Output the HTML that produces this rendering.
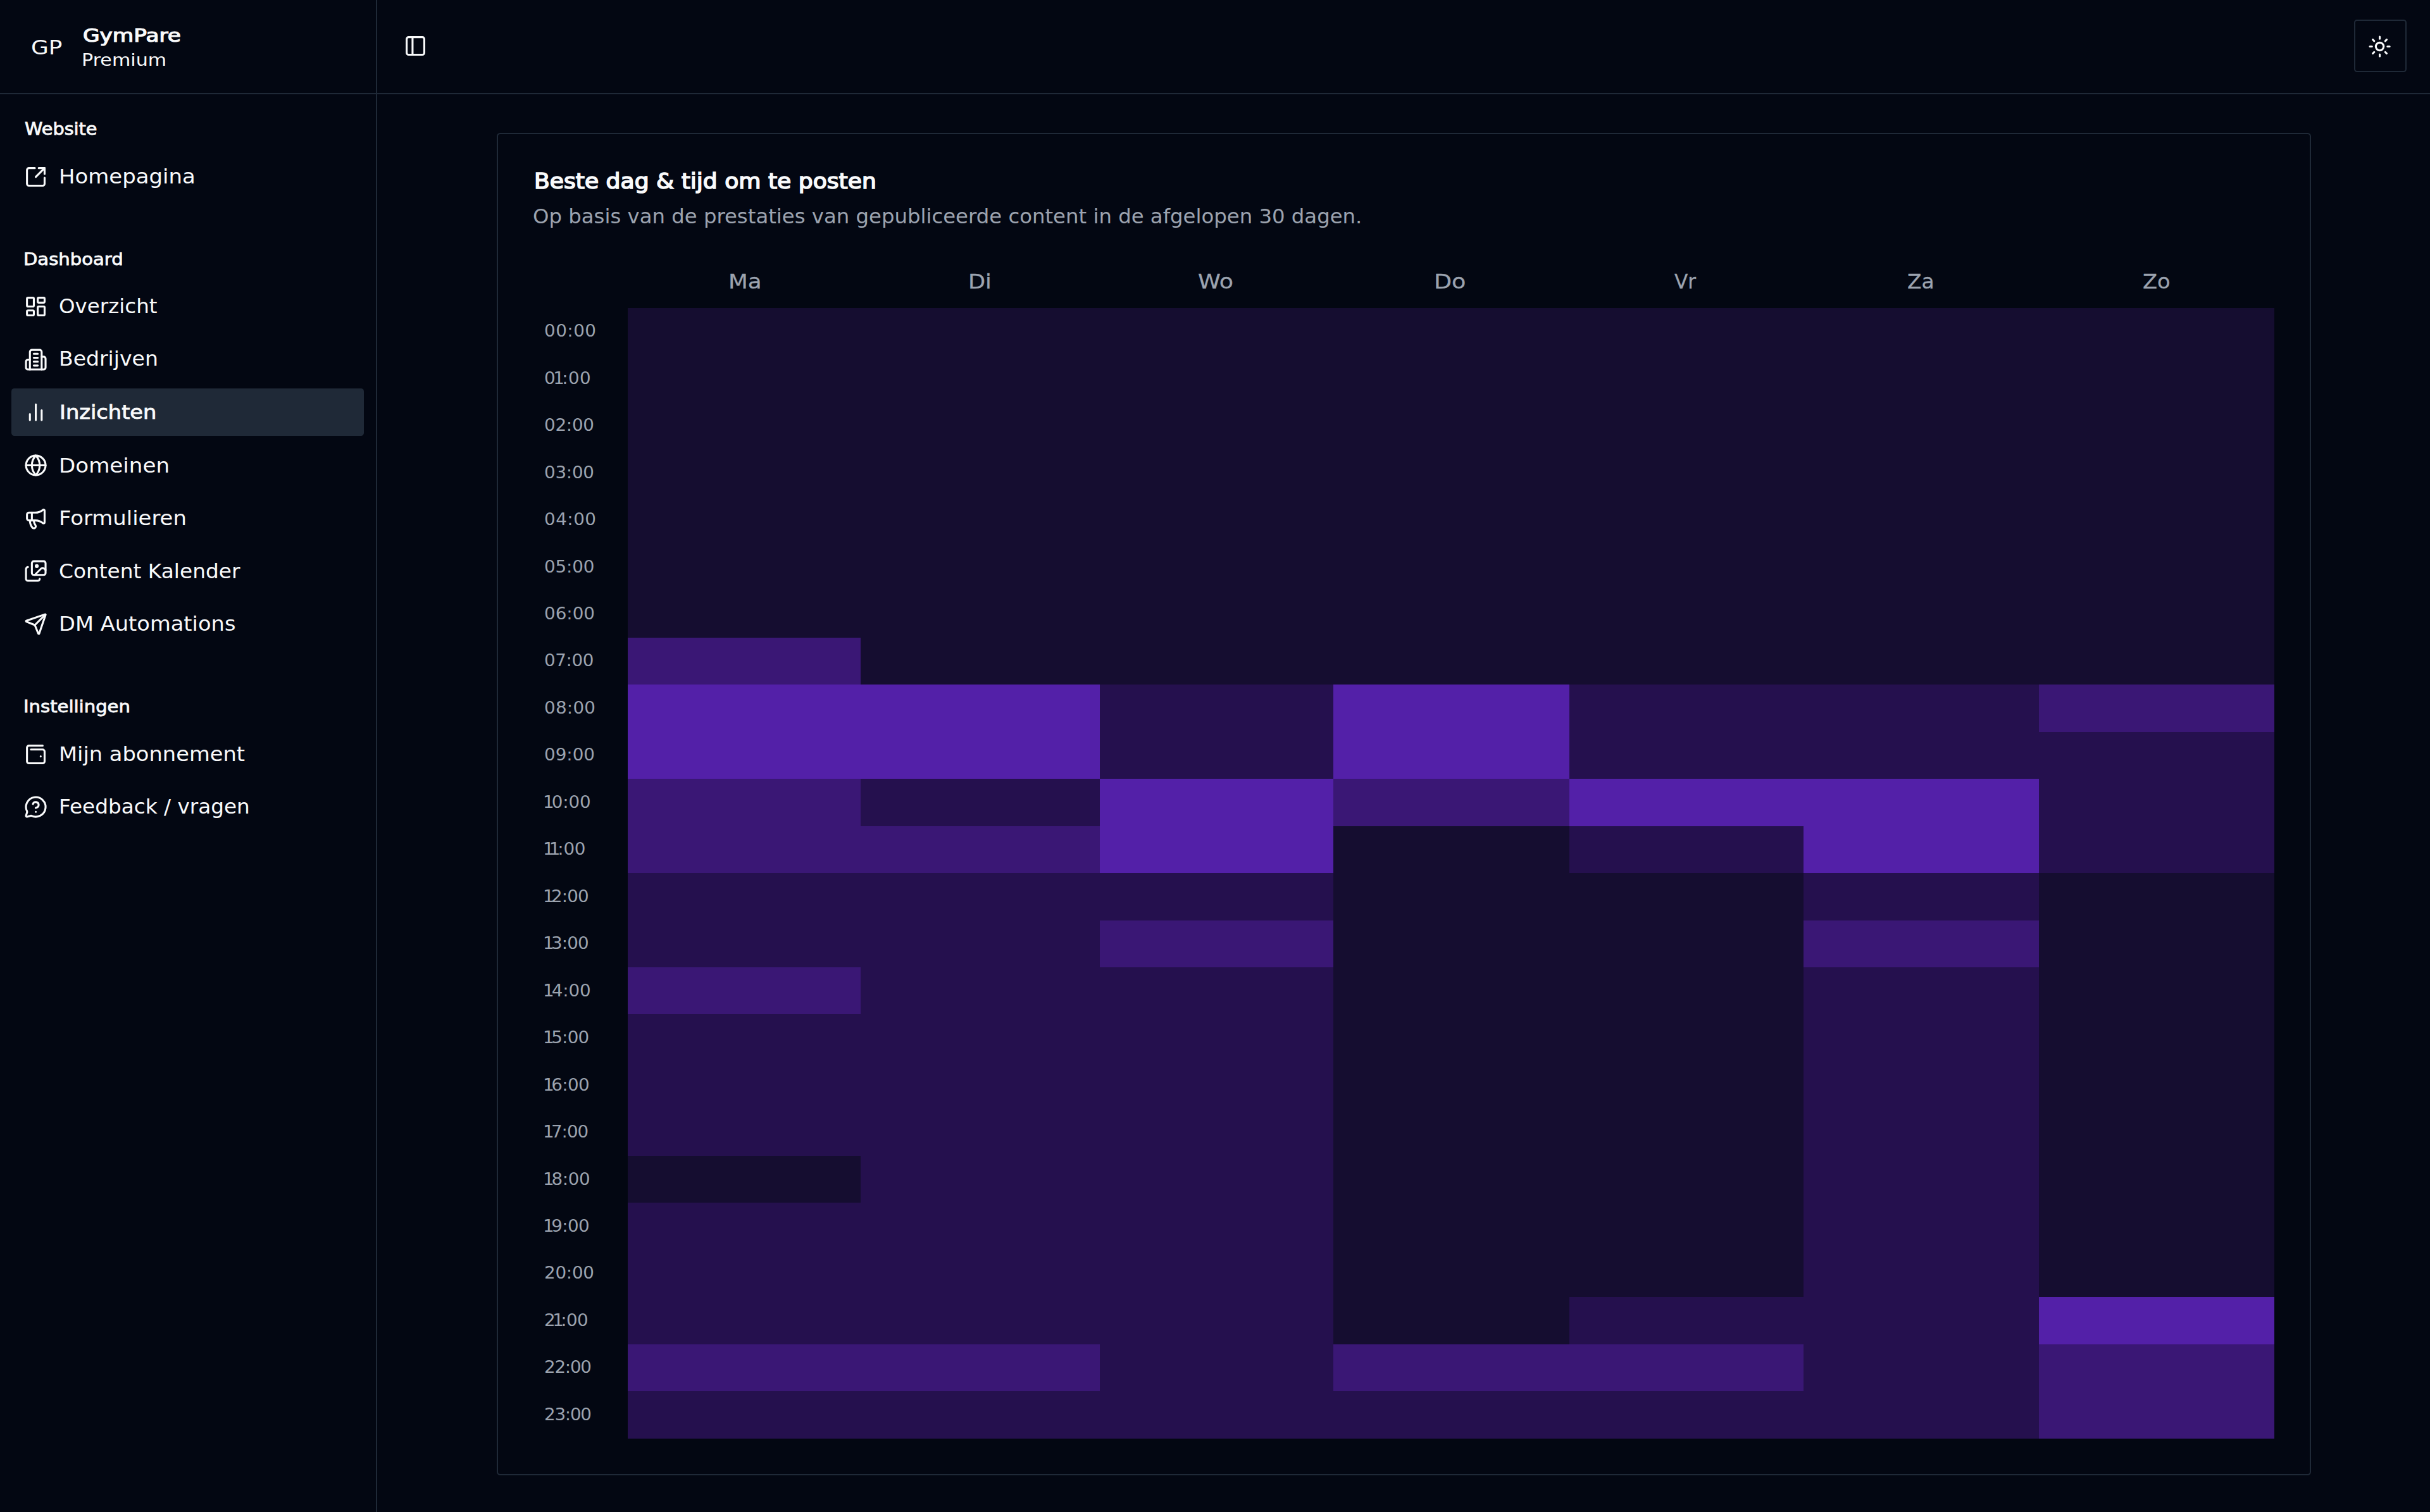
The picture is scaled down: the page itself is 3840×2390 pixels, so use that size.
<!DOCTYPE html>
<html lang="nl">
<head>
<meta charset="utf-8">
<title>GymPare – Inzichten</title>
<style>
html{font-size:calc(100vw / 38.4);overflow:hidden;background:#030712}
*{box-sizing:border-box}
body{margin:0;background:#030712;color:#f9fafb;font-family:"DejaVu Sans", "Liberation Sans", sans-serif;width:38.4rem;height:23.9rem;overflow:hidden;position:relative}
.t{position:relative;display:block;transform-origin:0 50%;line-height:1;white-space:nowrap;margin:0;font-weight:400}
svg.ic{width:.3712rem;height:.3712rem;flex:none;display:block}
aside{position:absolute;left:0;top:0;width:5.955rem;height:23.9rem;border-right:.02rem solid #1f2937;background:#030712}
.brand{position:absolute;left:0;top:0;width:100%;height:1.485rem;border-bottom:.02rem solid #1f2937}
.avatar{position:absolute;left:.3712rem;top:.3712rem;width:.7424rem;height:.7424rem;display:flex;align-items:center;justify-content:center}
.bname{position:absolute;left:1.2992rem}
.glabel{position:absolute;left:.3712rem;height:.7424rem;display:flex;align-items:center}
.item{position:absolute;left:.181rem;width:5.565rem;height:.7424rem;border-radius:.0464rem;padding:0 .1856rem 0 .1902rem;display:flex;align-items:center;gap:.1856rem;color:#f9fafb;text-decoration:none}
.item.on{background:#1f2937}
header.top{position:absolute;left:5.955rem;top:0;right:0;height:1.485rem;border-bottom:.02rem solid #1f2937}
.trigger{position:absolute;top:.4045rem;width:.65rem;height:.65rem;display:flex;align-items:center;justify-content:center;background:none;border:0;color:inherit;padding:0}
.theme{position:absolute;width:.83rem;height:.83rem;border:.02rem solid #1f2937;border-radius:.0464rem;display:flex;align-items:center;justify-content:center;background:#030712;color:inherit;padding:0}
.card{position:absolute;left:7.845rem;top:2.095rem;width:28.67rem;height:21.22rem;border:.02rem solid #1f2937;border-radius:.055rem;background:#030712}
.card .hd{position:absolute;left:.569rem;top:.56rem}
.desc{color:#9ca3af}
.day{position:absolute;display:flex;justify-content:center;color:#9ca3af}
.hr{position:absolute;color:#9ca3af}
.n1{margin:0 -.14em}
.c{position:absolute}
.l1{background:#150d30}.l2{background:#25104e}.l3{background:#3a1775}.l4{background:#5320a8}
.sb{-webkit-text-stroke:0.016rem currentColor}
.md{-webkit-text-stroke:0.008rem currentColor}
.md2{-webkit-text-stroke:.003rem currentColor}
.sb2{-webkit-text-stroke:.012rem currentColor}
.item svg{position:relative;left:.005rem;top:.005rem}
.theme svg{position:relative;top:.0075rem}

</style>
</head>
<body>
<aside>
 <div class="brand">
  <div class="avatar"><span id="t_gp" class="t" style="font-size:0.312rem;left:-0.036rem;top:0.0111rem;transform:scaleX(1.1496)">GP</span></div>
  <div class="bname" style="top:.4rem"><span id="t_gym" class="t" style="font-size:0.288rem;left:0.01rem;top:0.0244rem;transform:scaleX(1.1906)"><span class="sb2">GymPare</span></span></div>
  <div class="bname" style="top:.8rem"><span id="t_prem" class="t" style="font-size:0.267rem;left:-0.012rem;top:0.019rem;transform:scaleX(1.1293)">Premium</span></div>
 </div>
 <nav>
  <div class="glabel" style="top:1.6663rem"><span id="t_lab0" class="t" style="font-size:0.26rem;left:0.016rem;top:0.005rem;transform:scaleX(1.1051)"><span class="md">Website</span></span></div>
  <a class="item" style="top:2.4188rem"><svg class="ic" viewBox="0 0 24 24" fill="none" stroke="currentColor" stroke-width="2" stroke-linecap="round" stroke-linejoin="round"><path d="M21 13v6a2 2 0 0 1-2 2H5a2 2 0 0 1-2-2V5a2 2 0 0 1 2-2h6"/><path d="m21 3-9 9"/><path d="M15 3h6v6"/></svg><span id="t_it0" class="t" style="font-size:0.312rem;left:0.006rem;top:0.0069rem;transform:scaleX(1.0881)">Homepagina</span></a>
  <div class="glabel" style="top:3.7198rem"><span id="t_lab1" class="t" style="font-size:0.26rem;left:-0.004rem;top:0.0051rem;transform:scaleX(1.1171)"><span class="md">Dashboard</span></span></div>
  <a class="item" style="top:4.4698rem"><svg class="ic" viewBox="0 0 24 24" fill="none" stroke="currentColor" stroke-width="2" stroke-linecap="round" stroke-linejoin="round"><rect width="7" height="9" x="3" y="3" rx="1"/><rect width="7" height="5" x="14" y="3" rx="1"/><rect width="7" height="9" x="14" y="12" rx="1"/><rect width="7" height="5" x="3" y="16" rx="1"/></svg><span id="t_it1" class="t" style="font-size:0.312rem;left:0.006rem;top:0.006rem;transform:scaleX(1.0424)">Overzicht</span></a>
  <a class="item" style="top:5.3058rem"><svg class="ic" viewBox="0 0 24 24" fill="none" stroke="currentColor" stroke-width="2" stroke-linecap="round" stroke-linejoin="round"><path d="M6 22V4a2 2 0 0 1 2-2h8a2 2 0 0 1 2 2v18Z"/><path d="M6 12H4a2 2 0 0 0-2 2v6a2 2 0 0 0 2 2h2"/><path d="M18 9h2a2 2 0 0 1 2 2v9a2 2 0 0 1-2 2h-2"/><path d="M10 6h4"/><path d="M10 10h4"/><path d="M10 14h4"/><path d="M10 18h4"/></svg><span id="t_it2" class="t" style="font-size:0.312rem;left:0.002rem;top:0.0029rem;transform:scaleX(1.0601)">Bedrijven</span></a>
  <a class="item on" style="top:6.1428rem"><svg class="ic" viewBox="0 0 24 24" fill="none" stroke="currentColor" stroke-width="2" stroke-linecap="round" stroke-linejoin="round"><path d="M18 20V10"/><path d="M12 20V4"/><path d="M6 20v-6"/></svg><span id="t_it3" class="t" style="font-size:0.304rem;left:0.012rem;top:0.0105rem;transform:scaleX(1.1078)"><span class="md">Inzichten</span></span></a>
  <a class="item" style="top:6.9788rem"><svg class="ic" viewBox="0 0 24 24" fill="none" stroke="currentColor" stroke-width="2" stroke-linecap="round" stroke-linejoin="round"><circle cx="12" cy="12" r="10"/><path d="M12 2a14.5 14.5 0 0 0 0 20 14.5 14.5 0 0 0 0-20"/><path d="M2 12h20"/></svg><span id="t_it4" class="t" style="font-size:0.312rem;left:0.002rem;top:0.0115rem;transform:scaleX(1.0935)">Domeinen</span></a>
  <a class="item" style="top:7.8158rem"><svg class="ic" viewBox="0 0 24 24" fill="none" stroke="currentColor" stroke-width="2" stroke-linecap="round" stroke-linejoin="round"><path d="M11 6a13 13 0 0 0 8.4-2.8A1 1 0 0 1 21 4v12a1 1 0 0 1-1.6.8A13 13 0 0 0 11 14H5a2 2 0 0 1-2-2V8a2 2 0 0 1 2-2z"/><path d="M6 14a12 12 0 0 0 2.4 7.2 2 2 0 0 0 3.2-2.4A8 8 0 0 1 10 14"/><path d="M8 6v8"/></svg><span id="t_it5" class="t" style="font-size:0.312rem;left:0.002rem;top:0.0114rem;transform:scaleX(1.0856)">Formulieren</span></a>
  <a class="item" style="top:8.6518rem"><svg class="ic" viewBox="0 0 24 24" fill="none" stroke="currentColor" stroke-width="2" stroke-linecap="round" stroke-linejoin="round"><path d="m22 11-1.296-1.296a2.4 2.4 0 0 0-3.408 0L11 16"/><path d="M4 8a2 2 0 0 0-2 2v10a2 2 0 0 0 2 2h10a2 2 0 0 0 2-2"/><circle cx="13" cy="7" r="1" fill="currentColor"/><rect x="8" y="2" width="14" height="14" rx="2"/></svg><span id="t_it6" class="t" style="font-size:0.312rem;left:0.006rem;top:0.0144rem;transform:scaleX(1.0515)">Content Kalender</span></a>
  <a class="item" style="top:9.4888rem"><svg class="ic" viewBox="0 0 24 24" fill="none" stroke="currentColor" stroke-width="2" stroke-linecap="round" stroke-linejoin="round"><path d="M14.536 21.686a.5.5 0 0 0 .937-.024l6.5-19a.496.496 0 0 0-.635-.635l-19 6.5a.5.5 0 0 0-.024.937l7.93 3.18a2 2 0 0 1 1.112 1.11z"/><path d="m21.854 2.147-10.94 10.939"/></svg><span id="t_it7" class="t" style="font-size:0.312rem;left:0.002rem;top:0.0099rem;transform:scaleX(1.0800)">DM Automations</span></a>
  <div class="glabel" style="top:10.7938rem"><span id="t_lab2" class="t" style="font-size:0.26rem;left:-0.004rem;top:0.005rem;transform:scaleX(1.1186)"><span class="md">Instellingen</span></span></div>
  <a class="item" style="top:11.5448rem"><svg class="ic" viewBox="0 0 24 24" fill="none" stroke="currentColor" stroke-width="2" stroke-linecap="round" stroke-linejoin="round"><path d="M17 14h.01"/><path d="M7 7h12a2 2 0 0 1 2 2v10a2 2 0 0 1-2 2H5a2 2 0 0 1-2-2V5a2 2 0 0 1 2-2h14"/></svg><span id="t_it8" class="t" style="font-size:0.312rem;left:0.002rem;top:0.0065rem;transform:scaleX(1.0800)">Mijn abonnement</span></a>
  <a class="item" style="top:12.3808rem"><svg class="ic" viewBox="0 0 24 24" fill="none" stroke="currentColor" stroke-width="2" stroke-linecap="round" stroke-linejoin="round"><path d="M2.992 16.342a2 2 0 0 1 .094 1.167l-1.065 3.29a1 1 0 0 0 1.236 1.168l3.413-.998a2 2 0 0 1 1.099.092 10 10 0 1 0-4.777-4.719"/><path d="M9.09 9a3 3 0 0 1 5.83 1c0 2-3 3-3 3"/><path d="M12 17h.01"/></svg><span id="t_it9" class="t" style="font-size:0.312rem;left:0.002rem;top:0.0059rem;transform:scaleX(1.0477)">Feedback / vragen</span></a>
 </nav>
</aside>
<header class="top">
 <button class="trigger" style="left:0.282rem"><svg class="ic" viewBox="0 0 24 24" fill="none" stroke="currentColor" stroke-width="2" stroke-linecap="round" stroke-linejoin="round"><rect width="18" height="18" x="3" y="3" rx="2"/><path d="M9 3v18"/></svg></button>
 <button class="theme" style="left:31.24rem;top:0.314rem"><svg class="ic" viewBox="0 0 24 24" fill="none" stroke="currentColor" stroke-width="2" stroke-linecap="round" stroke-linejoin="round"><circle cx="12" cy="12" r="4"/><path d="M12 2v2"/><path d="M12 20v2"/><path d="m4.93 4.93 1.41 1.41"/><path d="m17.66 17.66 1.41 1.41"/><path d="M2 12h2"/><path d="M20 12h2"/><path d="m6.34 17.66-1.41 1.41"/><path d="m19.07 4.93-1.41 1.41"/></svg></button>
</header>
<main>
<section class="card">
 <div class="hd">
  <h3 id="t_title" class="t" style="font-size:0.346rem;left:0.002rem;top:0.013rem;transform:scaleX(1.0439)"><span class="sb">Beste dag &amp; tijd om te posten</span></h3>
  <p id="t_desc" class="t" style="font-size:0.315rem;left:-0.016rem;top:0.2474rem;transform:scaleX(1.0262);color:#9ca3af">Op basis van de prestaties van gepubliceerde content in de afgelopen 30 dagen.</p>
 </div>
 <div class="heat">
  <div class="day" style="left:2.05rem;width:3.7171rem;top:2.165rem"><span id="t_day0" class="t" style="font-size:0.312rem;left:-0.034rem;top:0.0158rem;transform:scaleX(1.1433)"><span class="md2">Ma</span></span></div>
  <div class="day" style="left:5.7671rem;width:3.7171rem;top:2.165rem"><span id="t_day1" class="t" style="font-size:0.312rem;left:-0.028rem;top:0.0158rem;transform:scaleX(1.1278)"><span class="md2">Di</span></span></div>
  <div class="day" style="left:9.4843rem;width:3.7171rem;top:2.165rem"><span id="t_day2" class="t" style="font-size:0.312rem;left:-0.034rem;top:0.0158rem;transform:scaleX(1.1652)"><span class="md2">Wo</span></span></div>
  <div class="day" style="left:13.2014rem;width:3.7171rem;top:2.165rem"><span id="t_day3" class="t" style="font-size:0.312rem;left:-0.048rem;top:0.0158rem;transform:scaleX(1.1707)"><span class="md2">Do</span></span></div>
  <div class="day" style="left:16.9186rem;width:3.7171rem;top:2.165rem"><span id="t_day4" class="t" style="font-size:0.312rem;left:-0.008rem;top:0.0158rem;transform:scaleX(0.9968)"><span class="md2">Vr</span></span></div>
  <div class="day" style="left:20.6357rem;width:3.7171rem;top:2.165rem"><span id="t_day5" class="t" style="font-size:0.312rem;left:-0.016rem;top:0.0158rem;transform:scaleX(1.0559)"><span class="md2">Za</span></span></div>
  <div class="day" style="left:24.3529rem;width:3.7171rem;top:2.165rem"><span id="t_day6" class="t" style="font-size:0.312rem;left:-0.016rem;top:0.0158rem;transform:scaleX(1.0788)"><span class="md2">Zo</span></span></div>
  <div class="hr" style="left:0.755rem;top:2.9823rem"><span id="t_hr0" class="t" style="font-size:0.267rem;letter-spacing:0.0048rem;left:-0.018rem;top:0.0046rem;transform:scaleX(1.0400)">00:00</span></div>
  <div class="c l1" style="left:2.05rem;top:2.75rem;width:3.688rem;height:0.7476rem"></div>
  <div class="c l1" style="left:5.735rem;top:2.75rem;width:3.783rem;height:0.7476rem"></div>
  <div class="c l1" style="left:9.515rem;top:2.75rem;width:3.697rem;height:0.7476rem"></div>
  <div class="c l1" style="left:13.209rem;top:2.75rem;width:3.727rem;height:0.7476rem"></div>
  <div class="c l1" style="left:16.933rem;top:2.75rem;width:3.7035rem;height:0.7476rem"></div>
  <div class="c l1" style="left:20.6335rem;top:2.75rem;width:3.7245rem;height:0.7476rem"></div>
  <div class="c l1" style="left:24.355rem;top:2.75rem;width:3.718rem;height:0.7476rem"></div>
  <div class="hr" style="left:0.755rem;top:3.727rem"><span id="t_hr1" class="t" style="font-size:0.267rem;letter-spacing:0.0036rem;left:-0.018rem;top:0.0046rem;transform:scaleX(1.0400)">0<span class="n1">1</span>:00</span></div>
  <div class="c l1" style="left:2.05rem;top:3.4946rem;width:3.688rem;height:0.7476rem"></div>
  <div class="c l1" style="left:5.735rem;top:3.4946rem;width:3.783rem;height:0.7476rem"></div>
  <div class="c l1" style="left:9.515rem;top:3.4946rem;width:3.697rem;height:0.7476rem"></div>
  <div class="c l1" style="left:13.209rem;top:3.4946rem;width:3.727rem;height:0.7476rem"></div>
  <div class="c l1" style="left:16.933rem;top:3.4946rem;width:3.7035rem;height:0.7476rem"></div>
  <div class="c l1" style="left:20.6335rem;top:3.4946rem;width:3.7245rem;height:0.7476rem"></div>
  <div class="c l1" style="left:24.355rem;top:3.4946rem;width:3.718rem;height:0.7476rem"></div>
  <div class="hr" style="left:0.755rem;top:4.4716rem"><span id="t_hr2" class="t" style="font-size:0.267rem;letter-spacing:-0.0024rem;left:-0.018rem;top:0.0046rem;transform:scaleX(1.0400)">02:00</span></div>
  <div class="c l1" style="left:2.05rem;top:4.2393rem;width:3.688rem;height:0.7476rem"></div>
  <div class="c l1" style="left:5.735rem;top:4.2393rem;width:3.783rem;height:0.7476rem"></div>
  <div class="c l1" style="left:9.515rem;top:4.2393rem;width:3.697rem;height:0.7476rem"></div>
  <div class="c l1" style="left:13.209rem;top:4.2393rem;width:3.727rem;height:0.7476rem"></div>
  <div class="c l1" style="left:16.933rem;top:4.2393rem;width:3.7035rem;height:0.7476rem"></div>
  <div class="c l1" style="left:20.6335rem;top:4.2393rem;width:3.7245rem;height:0.7476rem"></div>
  <div class="c l1" style="left:24.355rem;top:4.2393rem;width:3.718rem;height:0.7476rem"></div>
  <div class="hr" style="left:0.755rem;top:5.2163rem"><span id="t_hr3" class="t" style="font-size:0.267rem;letter-spacing:-0.0024rem;left:-0.018rem;top:0.0046rem;transform:scaleX(1.0400)">03:00</span></div>
  <div class="c l1" style="left:2.05rem;top:4.9839rem;width:3.688rem;height:0.7476rem"></div>
  <div class="c l1" style="left:5.735rem;top:4.9839rem;width:3.783rem;height:0.7476rem"></div>
  <div class="c l1" style="left:9.515rem;top:4.9839rem;width:3.697rem;height:0.7476rem"></div>
  <div class="c l1" style="left:13.209rem;top:4.9839rem;width:3.727rem;height:0.7476rem"></div>
  <div class="c l1" style="left:16.933rem;top:4.9839rem;width:3.7035rem;height:0.7476rem"></div>
  <div class="c l1" style="left:20.6335rem;top:4.9839rem;width:3.7245rem;height:0.7476rem"></div>
  <div class="c l1" style="left:24.355rem;top:4.9839rem;width:3.718rem;height:0.7476rem"></div>
  <div class="hr" style="left:0.755rem;top:5.9609rem"><span id="t_hr4" class="t" style="font-size:0.267rem;letter-spacing:0.0048rem;left:-0.018rem;top:0.0046rem;transform:scaleX(1.0400)">04:00</span></div>
  <div class="c l1" style="left:2.05rem;top:5.7286rem;width:3.688rem;height:0.7476rem"></div>
  <div class="c l1" style="left:5.735rem;top:5.7286rem;width:3.783rem;height:0.7476rem"></div>
  <div class="c l1" style="left:9.515rem;top:5.7286rem;width:3.697rem;height:0.7476rem"></div>
  <div class="c l1" style="left:13.209rem;top:5.7286rem;width:3.727rem;height:0.7476rem"></div>
  <div class="c l1" style="left:16.933rem;top:5.7286rem;width:3.7035rem;height:0.7476rem"></div>
  <div class="c l1" style="left:20.6335rem;top:5.7286rem;width:3.7245rem;height:0.7476rem"></div>
  <div class="c l1" style="left:24.355rem;top:5.7286rem;width:3.718rem;height:0.7476rem"></div>
  <div class="hr" style="left:0.755rem;top:6.7056rem"><span id="t_hr5" class="t" style="font-size:0.267rem;letter-spacing:-0.0012rem;left:-0.018rem;top:0.0046rem;transform:scaleX(1.0400)">05:00</span></div>
  <div class="c l1" style="left:2.05rem;top:6.4732rem;width:3.688rem;height:0.7476rem"></div>
  <div class="c l1" style="left:5.735rem;top:6.4732rem;width:3.783rem;height:0.7476rem"></div>
  <div class="c l1" style="left:9.515rem;top:6.4732rem;width:3.697rem;height:0.7476rem"></div>
  <div class="c l1" style="left:13.209rem;top:6.4732rem;width:3.727rem;height:0.7476rem"></div>
  <div class="c l1" style="left:16.933rem;top:6.4732rem;width:3.7035rem;height:0.7476rem"></div>
  <div class="c l1" style="left:20.6335rem;top:6.4732rem;width:3.7245rem;height:0.7476rem"></div>
  <div class="c l1" style="left:24.355rem;top:6.4732rem;width:3.718rem;height:0.7476rem"></div>
  <div class="hr" style="left:0.755rem;top:7.4502rem"><span id="t_hr6" class="t" style="font-size:0.267rem;left:-0.018rem;top:0.0046rem;transform:scaleX(1.0400)">06:00</span></div>
  <div class="c l1" style="left:2.05rem;top:7.2179rem;width:3.688rem;height:0.7476rem"></div>
  <div class="c l1" style="left:5.735rem;top:7.2179rem;width:3.783rem;height:0.7476rem"></div>
  <div class="c l1" style="left:9.515rem;top:7.2179rem;width:3.697rem;height:0.7476rem"></div>
  <div class="c l1" style="left:13.209rem;top:7.2179rem;width:3.727rem;height:0.7476rem"></div>
  <div class="c l1" style="left:16.933rem;top:7.2179rem;width:3.7035rem;height:0.7476rem"></div>
  <div class="c l1" style="left:20.6335rem;top:7.2179rem;width:3.7245rem;height:0.7476rem"></div>
  <div class="c l1" style="left:24.355rem;top:7.2179rem;width:3.718rem;height:0.7476rem"></div>
  <div class="hr" style="left:0.755rem;top:8.1948rem"><span id="t_hr7" class="t" style="font-size:0.267rem;letter-spacing:-0.0036rem;left:-0.018rem;top:0.0046rem;transform:scaleX(1.0400)">07:00</span></div>
  <div class="c l3" style="left:2.05rem;top:7.9625rem;width:3.706rem;height:0.7476rem"></div>
  <div class="c l1" style="left:5.735rem;top:7.9625rem;width:3.783rem;height:0.7476rem"></div>
  <div class="c l1" style="left:9.515rem;top:7.9625rem;width:3.697rem;height:0.7476rem"></div>
  <div class="c l1" style="left:13.209rem;top:7.9625rem;width:3.727rem;height:0.7476rem"></div>
  <div class="c l1" style="left:16.933rem;top:7.9625rem;width:3.7035rem;height:0.7476rem"></div>
  <div class="c l1" style="left:20.6335rem;top:7.9625rem;width:3.7245rem;height:0.7476rem"></div>
  <div class="c l1" style="left:24.355rem;top:7.9625rem;width:3.718rem;height:0.7476rem"></div>
  <div class="hr" style="left:0.755rem;top:8.9395rem"><span id="t_hr8" class="t" style="font-size:0.267rem;letter-spacing:0.0024rem;left:-0.018rem;top:0.0046rem;transform:scaleX(1.0400)">08:00</span></div>
  <div class="c l4" style="left:2.05rem;top:8.7072rem;width:3.688rem;height:0.7476rem"></div>
  <div class="c l4" style="left:5.735rem;top:8.7072rem;width:3.783rem;height:0.7476rem"></div>
  <div class="c l2" style="left:9.515rem;top:8.7072rem;width:3.697rem;height:0.7476rem"></div>
  <div class="c l4" style="left:13.209rem;top:8.7072rem;width:3.727rem;height:0.7476rem"></div>
  <div class="c l2" style="left:16.933rem;top:8.7072rem;width:3.7035rem;height:0.7476rem"></div>
  <div class="c l2" style="left:20.6335rem;top:8.7072rem;width:3.7245rem;height:0.7476rem"></div>
  <div class="c l3" style="left:24.355rem;top:8.7072rem;width:3.718rem;height:0.7476rem"></div>
  <div class="hr" style="left:0.755rem;top:9.6841rem"><span id="t_hr9" class="t" style="font-size:0.267rem;left:-0.018rem;top:0.0046rem;transform:scaleX(1.0400)">09:00</span></div>
  <div class="c l4" style="left:2.05rem;top:9.4518rem;width:3.688rem;height:0.7476rem"></div>
  <div class="c l4" style="left:5.735rem;top:9.4518rem;width:3.783rem;height:0.7476rem"></div>
  <div class="c l2" style="left:9.515rem;top:9.4518rem;width:3.697rem;height:0.7476rem"></div>
  <div class="c l4" style="left:13.209rem;top:9.4518rem;width:3.727rem;height:0.7476rem"></div>
  <div class="c l2" style="left:16.933rem;top:9.4518rem;width:3.7035rem;height:0.7476rem"></div>
  <div class="c l2" style="left:20.6335rem;top:9.4518rem;width:3.7245rem;height:0.7476rem"></div>
  <div class="c l2" style="left:24.355rem;top:9.4518rem;width:3.718rem;height:0.7476rem"></div>
  <div class="hr" style="left:0.755rem;top:10.4288rem"><span id="t_hr10" class="t" style="font-size:0.267rem;letter-spacing:-0.0012rem;left:0.002rem;top:0.0046rem;transform:scaleX(1.0400)"><span class="n1">1</span>0:00</span></div>
  <div class="c l3" style="left:2.05rem;top:10.1965rem;width:3.688rem;height:0.7476rem"></div>
  <div class="c l2" style="left:5.735rem;top:10.1965rem;width:3.783rem;height:0.7476rem"></div>
  <div class="c l4" style="left:9.515rem;top:10.1965rem;width:3.697rem;height:0.7476rem"></div>
  <div class="c l3" style="left:13.209rem;top:10.1965rem;width:3.727rem;height:0.7476rem"></div>
  <div class="c l4" style="left:16.933rem;top:10.1965rem;width:3.7035rem;height:0.7476rem"></div>
  <div class="c l4" style="left:20.6335rem;top:10.1965rem;width:3.7245rem;height:0.7476rem"></div>
  <div class="c l2" style="left:24.355rem;top:10.1965rem;width:3.718rem;height:0.7476rem"></div>
  <div class="hr" style="left:0.755rem;top:11.1734rem"><span id="t_hr11" class="t" style="font-size:0.267rem;letter-spacing:-0.0024rem;left:0.002rem;top:0.0046rem;transform:scaleX(1.0400)"><span class="n1">1</span><span class="n1">1</span>:00</span></div>
  <div class="c l3" style="left:2.05rem;top:10.9411rem;width:3.688rem;height:0.7476rem"></div>
  <div class="c l3" style="left:5.735rem;top:10.9411rem;width:3.783rem;height:0.7476rem"></div>
  <div class="c l4" style="left:9.515rem;top:10.9411rem;width:3.697rem;height:0.7476rem"></div>
  <div class="c l1" style="left:13.209rem;top:10.9411rem;width:3.727rem;height:0.7476rem"></div>
  <div class="c l2" style="left:16.933rem;top:10.9411rem;width:3.7035rem;height:0.7476rem"></div>
  <div class="c l4" style="left:20.6335rem;top:10.9411rem;width:3.7245rem;height:0.7476rem"></div>
  <div class="c l2" style="left:24.355rem;top:10.9411rem;width:3.718rem;height:0.7476rem"></div>
  <div class="hr" style="left:0.755rem;top:11.9181rem"><span id="t_hr12" class="t" style="font-size:0.267rem;letter-spacing:-0.0084rem;left:0.002rem;top:0.0046rem;transform:scaleX(1.0400)"><span class="n1">1</span>2:00</span></div>
  <div class="c l2" style="left:2.05rem;top:11.6858rem;width:3.688rem;height:0.7476rem"></div>
  <div class="c l2" style="left:5.735rem;top:11.6858rem;width:3.783rem;height:0.7476rem"></div>
  <div class="c l2" style="left:9.515rem;top:11.6858rem;width:3.697rem;height:0.7476rem"></div>
  <div class="c l1" style="left:13.209rem;top:11.6858rem;width:3.727rem;height:0.7476rem"></div>
  <div class="c l1" style="left:16.933rem;top:11.6858rem;width:3.7035rem;height:0.7476rem"></div>
  <div class="c l2" style="left:20.6335rem;top:11.6858rem;width:3.7245rem;height:0.7476rem"></div>
  <div class="c l1" style="left:24.355rem;top:11.6858rem;width:3.718rem;height:0.7476rem"></div>
  <div class="hr" style="left:0.755rem;top:12.6627rem"><span id="t_hr13" class="t" style="font-size:0.267rem;letter-spacing:-0.0084rem;left:0.002rem;top:0.0046rem;transform:scaleX(1.0400)"><span class="n1">1</span>3:00</span></div>
  <div class="c l2" style="left:2.05rem;top:12.4304rem;width:3.688rem;height:0.7476rem"></div>
  <div class="c l2" style="left:5.735rem;top:12.4304rem;width:3.783rem;height:0.7476rem"></div>
  <div class="c l3" style="left:9.515rem;top:12.4304rem;width:3.697rem;height:0.7476rem"></div>
  <div class="c l1" style="left:13.209rem;top:12.4304rem;width:3.727rem;height:0.7476rem"></div>
  <div class="c l1" style="left:16.933rem;top:12.4304rem;width:3.7035rem;height:0.7476rem"></div>
  <div class="c l3" style="left:20.6335rem;top:12.4304rem;width:3.7245rem;height:0.7476rem"></div>
  <div class="c l1" style="left:24.355rem;top:12.4304rem;width:3.718rem;height:0.7476rem"></div>
  <div class="hr" style="left:0.755rem;top:13.4074rem"><span id="t_hr14" class="t" style="font-size:0.267rem;letter-spacing:-0.0012rem;left:0.002rem;top:0.0046rem;transform:scaleX(1.0400)"><span class="n1">1</span>4:00</span></div>
  <div class="c l3" style="left:2.05rem;top:13.175rem;width:3.688rem;height:0.7476rem"></div>
  <div class="c l2" style="left:5.735rem;top:13.175rem;width:3.783rem;height:0.7476rem"></div>
  <div class="c l2" style="left:9.515rem;top:13.175rem;width:3.697rem;height:0.7476rem"></div>
  <div class="c l1" style="left:13.209rem;top:13.175rem;width:3.727rem;height:0.7476rem"></div>
  <div class="c l1" style="left:16.933rem;top:13.175rem;width:3.7035rem;height:0.7476rem"></div>
  <div class="c l2" style="left:20.6335rem;top:13.175rem;width:3.7245rem;height:0.7476rem"></div>
  <div class="c l1" style="left:24.355rem;top:13.175rem;width:3.718rem;height:0.7476rem"></div>
  <div class="hr" style="left:0.755rem;top:14.152rem"><span id="t_hr15" class="t" style="font-size:0.267rem;letter-spacing:-0.0072rem;left:0.002rem;top:0.0046rem;transform:scaleX(1.0400)"><span class="n1">1</span>5:00</span></div>
  <div class="c l2" style="left:2.05rem;top:13.9197rem;width:3.688rem;height:0.7476rem"></div>
  <div class="c l2" style="left:5.735rem;top:13.9197rem;width:3.783rem;height:0.7476rem"></div>
  <div class="c l2" style="left:9.515rem;top:13.9197rem;width:3.697rem;height:0.7476rem"></div>
  <div class="c l1" style="left:13.209rem;top:13.9197rem;width:3.727rem;height:0.7476rem"></div>
  <div class="c l1" style="left:16.933rem;top:13.9197rem;width:3.7035rem;height:0.7476rem"></div>
  <div class="c l2" style="left:20.6335rem;top:13.9197rem;width:3.7245rem;height:0.7476rem"></div>
  <div class="c l1" style="left:24.355rem;top:13.9197rem;width:3.718rem;height:0.7476rem"></div>
  <div class="hr" style="left:0.755rem;top:14.8967rem"><span id="t_hr16" class="t" style="font-size:0.267rem;letter-spacing:-0.006rem;left:0.002rem;top:0.0046rem;transform:scaleX(1.0400)"><span class="n1">1</span>6:00</span></div>
  <div class="c l2" style="left:2.05rem;top:14.6643rem;width:3.688rem;height:0.7476rem"></div>
  <div class="c l2" style="left:5.735rem;top:14.6643rem;width:3.783rem;height:0.7476rem"></div>
  <div class="c l2" style="left:9.515rem;top:14.6643rem;width:3.697rem;height:0.7476rem"></div>
  <div class="c l1" style="left:13.209rem;top:14.6643rem;width:3.727rem;height:0.7476rem"></div>
  <div class="c l1" style="left:16.933rem;top:14.6643rem;width:3.7035rem;height:0.7476rem"></div>
  <div class="c l2" style="left:20.6335rem;top:14.6643rem;width:3.7245rem;height:0.7476rem"></div>
  <div class="c l1" style="left:24.355rem;top:14.6643rem;width:3.718rem;height:0.7476rem"></div>
  <div class="hr" style="left:0.755rem;top:15.6413rem"><span id="t_hr17" class="t" style="font-size:0.267rem;letter-spacing:-0.0096rem;left:0.002rem;top:0.0046rem;transform:scaleX(1.0400)"><span class="n1">1</span>7:00</span></div>
  <div class="c l2" style="left:2.05rem;top:15.409rem;width:3.688rem;height:0.7476rem"></div>
  <div class="c l2" style="left:5.735rem;top:15.409rem;width:3.783rem;height:0.7476rem"></div>
  <div class="c l2" style="left:9.515rem;top:15.409rem;width:3.697rem;height:0.7476rem"></div>
  <div class="c l1" style="left:13.209rem;top:15.409rem;width:3.727rem;height:0.7476rem"></div>
  <div class="c l1" style="left:16.933rem;top:15.409rem;width:3.7035rem;height:0.7476rem"></div>
  <div class="c l2" style="left:20.6335rem;top:15.409rem;width:3.7245rem;height:0.7476rem"></div>
  <div class="c l1" style="left:24.355rem;top:15.409rem;width:3.718rem;height:0.7476rem"></div>
  <div class="hr" style="left:0.755rem;top:16.3859rem"><span id="t_hr18" class="t" style="font-size:0.267rem;letter-spacing:-0.0036rem;left:0.002rem;top:0.0046rem;transform:scaleX(1.0400)"><span class="n1">1</span>8:00</span></div>
  <div class="c l1" style="left:2.05rem;top:16.1536rem;width:3.688rem;height:0.7476rem"></div>
  <div class="c l2" style="left:5.735rem;top:16.1536rem;width:3.783rem;height:0.7476rem"></div>
  <div class="c l2" style="left:9.515rem;top:16.1536rem;width:3.697rem;height:0.7476rem"></div>
  <div class="c l1" style="left:13.209rem;top:16.1536rem;width:3.727rem;height:0.7476rem"></div>
  <div class="c l1" style="left:16.933rem;top:16.1536rem;width:3.7035rem;height:0.7476rem"></div>
  <div class="c l2" style="left:20.6335rem;top:16.1536rem;width:3.7245rem;height:0.7476rem"></div>
  <div class="c l1" style="left:24.355rem;top:16.1536rem;width:3.718rem;height:0.7476rem"></div>
  <div class="hr" style="left:0.755rem;top:17.1306rem"><span id="t_hr19" class="t" style="font-size:0.267rem;letter-spacing:-0.006rem;left:0.002rem;top:0.0046rem;transform:scaleX(1.0400)"><span class="n1">1</span>9:00</span></div>
  <div class="c l2" style="left:2.05rem;top:16.8983rem;width:3.688rem;height:0.7476rem"></div>
  <div class="c l2" style="left:5.735rem;top:16.8983rem;width:3.783rem;height:0.7476rem"></div>
  <div class="c l2" style="left:9.515rem;top:16.8983rem;width:3.697rem;height:0.7476rem"></div>
  <div class="c l1" style="left:13.209rem;top:16.8983rem;width:3.727rem;height:0.7476rem"></div>
  <div class="c l1" style="left:16.933rem;top:16.8983rem;width:3.7035rem;height:0.7476rem"></div>
  <div class="c l2" style="left:20.6335rem;top:16.8983rem;width:3.7245rem;height:0.7476rem"></div>
  <div class="c l1" style="left:24.355rem;top:16.8983rem;width:3.718rem;height:0.7476rem"></div>
  <div class="hr" style="left:0.755rem;top:17.8752rem"><span id="t_hr20" class="t" style="font-size:0.267rem;letter-spacing:-0.0024rem;left:-0.02rem;top:0.0046rem;transform:scaleX(1.0400)">20:00</span></div>
  <div class="c l2" style="left:2.05rem;top:17.6429rem;width:3.688rem;height:0.7476rem"></div>
  <div class="c l2" style="left:5.735rem;top:17.6429rem;width:3.783rem;height:0.7476rem"></div>
  <div class="c l2" style="left:9.515rem;top:17.6429rem;width:3.697rem;height:0.7476rem"></div>
  <div class="c l1" style="left:13.209rem;top:17.6429rem;width:3.727rem;height:0.7476rem"></div>
  <div class="c l1" style="left:16.933rem;top:17.6429rem;width:3.7035rem;height:0.7476rem"></div>
  <div class="c l2" style="left:20.6335rem;top:17.6429rem;width:3.7245rem;height:0.7476rem"></div>
  <div class="c l1" style="left:24.355rem;top:17.6429rem;width:3.718rem;height:0.7476rem"></div>
  <div class="hr" style="left:0.755rem;top:18.6199rem"><span id="t_hr21" class="t" style="font-size:0.267rem;letter-spacing:-0.006rem;left:-0.02rem;top:0.0046rem;transform:scaleX(1.0400)">2<span class="n1">1</span>:00</span></div>
  <div class="c l2" style="left:2.05rem;top:18.3876rem;width:3.688rem;height:0.7476rem"></div>
  <div class="c l2" style="left:5.735rem;top:18.3876rem;width:3.783rem;height:0.7476rem"></div>
  <div class="c l2" style="left:9.515rem;top:18.3876rem;width:3.697rem;height:0.7476rem"></div>
  <div class="c l1" style="left:13.209rem;top:18.3876rem;width:3.727rem;height:0.7476rem"></div>
  <div class="c l2" style="left:16.933rem;top:18.3876rem;width:3.7035rem;height:0.7476rem"></div>
  <div class="c l2" style="left:20.6335rem;top:18.3876rem;width:3.7245rem;height:0.7476rem"></div>
  <div class="c l4" style="left:24.355rem;top:18.3876rem;width:3.718rem;height:0.7476rem"></div>
  <div class="hr" style="left:0.755rem;top:19.3645rem"><span id="t_hr22" class="t" style="font-size:0.267rem;letter-spacing:-0.012rem;left:-0.02rem;top:0.0046rem;transform:scaleX(1.0400)">22:00</span></div>
  <div class="c l3" style="left:2.05rem;top:19.1322rem;width:3.688rem;height:0.7476rem"></div>
  <div class="c l3" style="left:5.735rem;top:19.1322rem;width:3.783rem;height:0.7476rem"></div>
  <div class="c l2" style="left:9.515rem;top:19.1322rem;width:3.697rem;height:0.7476rem"></div>
  <div class="c l3" style="left:13.209rem;top:19.1322rem;width:3.727rem;height:0.7476rem"></div>
  <div class="c l3" style="left:16.933rem;top:19.1322rem;width:3.7035rem;height:0.7476rem"></div>
  <div class="c l2" style="left:20.6335rem;top:19.1322rem;width:3.7245rem;height:0.7476rem"></div>
  <div class="c l3" style="left:24.355rem;top:19.1322rem;width:3.718rem;height:0.7476rem"></div>
  <div class="hr" style="left:0.755rem;top:20.1092rem"><span id="t_hr23" class="t" style="font-size:0.267rem;letter-spacing:-0.012rem;left:-0.02rem;top:0.0046rem;transform:scaleX(1.0400)">23:00</span></div>
  <div class="c l2" style="left:2.05rem;top:19.8769rem;width:3.688rem;height:0.7476rem"></div>
  <div class="c l2" style="left:5.735rem;top:19.8769rem;width:3.783rem;height:0.7476rem"></div>
  <div class="c l2" style="left:9.515rem;top:19.8769rem;width:3.697rem;height:0.7476rem"></div>
  <div class="c l2" style="left:13.209rem;top:19.8769rem;width:3.727rem;height:0.7476rem"></div>
  <div class="c l2" style="left:16.933rem;top:19.8769rem;width:3.7035rem;height:0.7476rem"></div>
  <div class="c l2" style="left:20.6335rem;top:19.8769rem;width:3.7245rem;height:0.7476rem"></div>
  <div class="c l3" style="left:24.355rem;top:19.8769rem;width:3.718rem;height:0.7476rem"></div>
 </div>
</section>
</main>
</body>
</html>
